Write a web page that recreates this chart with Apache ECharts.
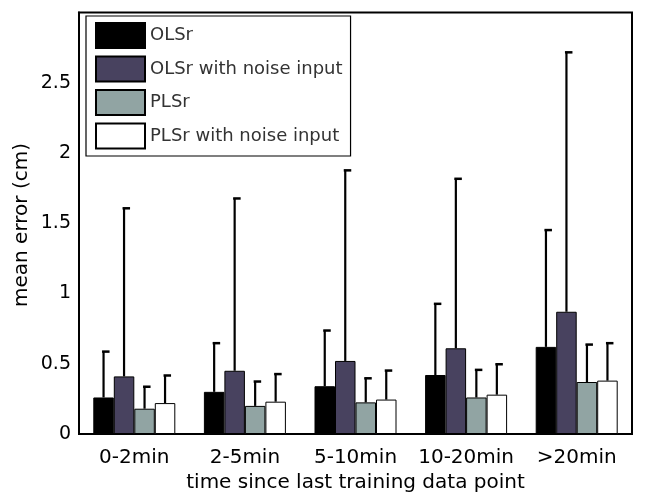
<!DOCTYPE html>
<html><head><meta charset="utf-8">
<script src="https://cdn.jsdelivr.net/npm/echarts@6/dist/echarts.min.js"></script>
<style>html,body{margin:0;padding:0;background:#fff}#c{width:645px;height:501px}</style>
</head><body><div id="c"></div>
<script>
const categories = ['0-2min', '2-5min', '5-10min', '10-20min', '>20min'];
const seriesNames = ['OLSr', 'OLSr with noise input', 'PLSr', 'PLSr with noise input'];
const olsr = [0.26, 0.30, 0.34, 0.42, 0.62];
const olsrErr = [0.33, 0.35, 0.40, 0.51, 0.835];
const olsrNoise = [0.41, 0.45, 0.52, 0.61, 0.87];
const olsrNoiseErr = [1.20, 1.23, 1.36, 1.21, 1.85];
const plsr = [0.18, 0.20, 0.225, 0.26, 0.37];
const plsrErr = [0.16, 0.177, 0.175, 0.20, 0.27];
const plsrNoise = [0.22, 0.23, 0.245, 0.28, 0.38];
const plsrNoiseErr = [0.20, 0.20, 0.21, 0.22, 0.27];
const yTicks = [0, 0.5, 1, 1.5, 2, 2.5];

const means = [olsr, olsrNoise, plsr, plsrNoise];
const errs = [olsrErr, olsrNoiseErr, plsrErr, plsrNoiseErr];
const colors = ['#000000', '#48425f', '#91a4a3', '#ffffff'];
const BW = 20.5;
const FONT = 'DejaVu Sans';

const chart = echarts.init(document.getElementById('c'), null, {renderer: 'canvas'});
const series = [];
means.forEach((m, s) => {
  series.push({
    name: seriesNames[s], type: 'bar', data: m, barWidth: BW, barGap: '0%',
    itemStyle: {color: colors[s], borderColor: '#000', borderWidth: 1},
    emphasis: {disabled: true}, z: 2
  });
});
means.forEach((m, s) => {
  series.push({
    type: 'custom', z: 3, silent: true,
    data: m.map((v, i) => [i, v, v + errs[s][i]]),
    renderItem: function (params, api) {
      const base = api.coord([api.value(0), api.value(1)]);
      const top = api.coord([api.value(0), api.value(2)]);
      const x = base[0] + (s - 1.5) * BW;
      return {
        type: 'group', children: [
          {type: 'line', shape: {x1: x, y1: base[1], x2: x, y2: top[1]}, style: {stroke: '#000', lineWidth: 2.2}},
          {type: 'line', shape: {x1: x - 1.5, y1: top[1] + 0.5, x2: x + 6, y2: top[1] + 0.5}, style: {stroke: '#000', lineWidth: 2.5}}
        ]
      };
    }
  });
});

chart.setOption({
  animation: false,
  backgroundColor: '#fff',
  grid: {left: 79, top: 12.5, right: 13, bottom: 67, show: true, borderColor: '#000', borderWidth: 2, backgroundColor: 'transparent'},
  legend: {
    data: seriesNames, orient: 'vertical', left: 86, top: 16,
    itemWidth: 49, itemHeight: 25, itemGap: 6.5,
    padding: [6, 8, 6.5, 9], borderColor: '#000', borderWidth: 1.2, backgroundColor: '#fff',
    icon: 'rect', selectedMode: false,
    textStyle: {fontFamily: FONT, fontSize: 18, color: '#333'}
  },
  xAxis: {
    type: 'category', data: categories,
    axisLine: {show: true, lineStyle: {color: '#000', width: 2}},
    axisTick: {show: false},
    axisLabel: {fontFamily: FONT, fontSize: 20, color: '#000', margin: 14, interval: 0},
    name: 'time since last training data point', nameLocation: 'middle', nameGap: 36,
    nameTextStyle: {fontFamily: FONT, fontSize: 20, color: '#000'}
  },
  yAxis: {
    type: 'value', min: 0, max: 3, interval: 0.5,
    axisLine: {show: true, lineStyle: {color: '#000', width: 2}},
    axisTick: {show: false}, splitLine: {show: false},
    axisLabel: {fontFamily: FONT, fontSize: 19, color: '#000', margin: 8,
      formatter: v => (yTicks.indexOf(v) >= 0 ? String(v) : '')}
  },
  graphic: [{
    type: 'text', x: 22, y: 225, rotation: Math.PI / 2,
    style: {text: 'mean error (cm)', fontFamily: FONT, fontSize: 20, fill: '#000', textAlign: 'center', textVerticalAlign: 'middle'}
  }],
  series: series
});
</script></body></html>
